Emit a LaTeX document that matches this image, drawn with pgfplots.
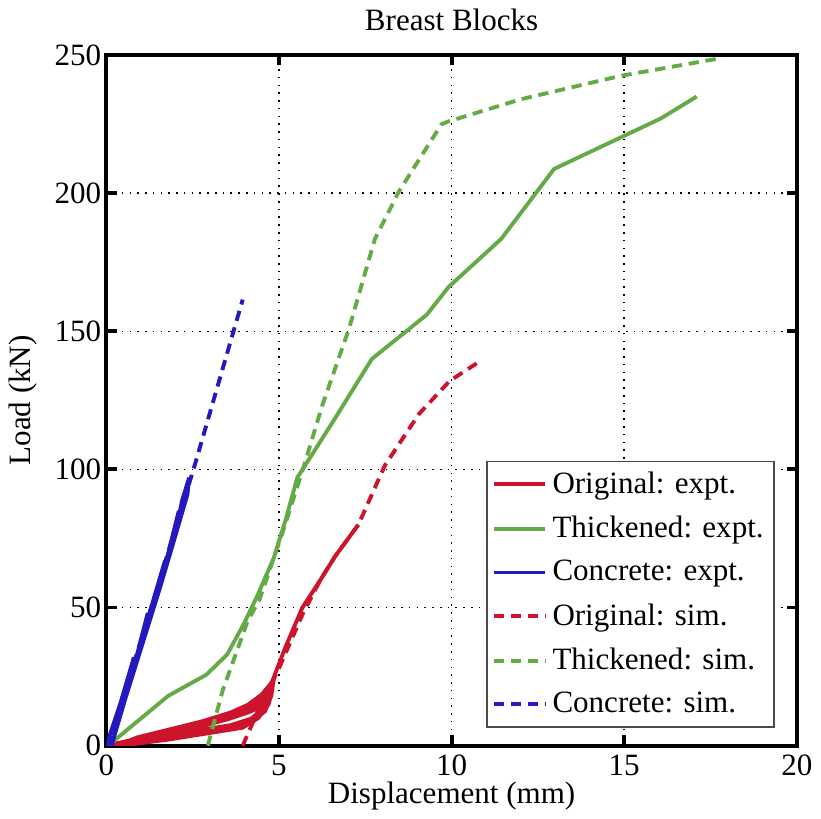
\documentclass[border=0pt]{standalone}
\usepackage{fontspec}
\setmainfont{Liberation Serif}
\usepackage{pgfplots}
\pgfplotsset{compat=1.18}
\definecolor{mred}{RGB}{205,20,45}
\definecolor{mgreen}{RGB}{100,170,70}
\definecolor{mblue}{RGB}{35,25,190}
\pgfplotsset{
  expt/.style={line width=1.5pt, solid},
  sim/.style={line width=1.5pt, dash pattern=on 4pt off 2.6pt},
}
\begin{document}
\begin{tikzpicture}
\begin{axis}[
  scale only axis, width=267pt, height=267pt,
  xmin=0, xmax=20, ymin=0, ymax=250,
  xtick={0,5,...,20}, ytick={0,50,...,250},
  grid=major,
  grid style={black, line width=0.6pt, dash pattern=on 0.6pt off 2.4pt},
  axis line style={line width=1.5pt},
  tick align=inside, major tick length=4pt,
  tick style={black, line width=1.5pt},
  /pgf/number format/assume math mode=true,
  tick label style={font=\fontsize{12}{14}\selectfont},
  yticklabel style={xshift=1.5pt},
  label style={font=\fontsize{12}{14}\selectfont},
  xlabel style={yshift=4.5pt},
  title style={font=\fontsize{12}{14}\selectfont},
  title={Breast Blocks},
  xlabel={Displacement (mm)},
  ylabel={Load (kN)},
  legend style={at={(0.968,0.026)}, anchor=south east,
    draw=black!70, line width=0.6pt, row sep=3.3pt,
    inner xsep=2pt,
    font=\fontsize{12}{14}\selectfont},
  legend cell align=left,
  legend image code/.code={\draw[#1] (0cm,0cm) -- (0.7cm,0cm);},
]
% original, experiment (many load cycles, then final loading)
\addplot[expt, mred] coordinates {
  (0,0) (0.9,2.5) (2,5.2) (2.8,7.2) (3.5,9.5) (4.1,12) (4.5,14) (4.7,16)
  (4.6,12.5) (4.2,8.5) (3.5,6) (2.8,4.6) (1.8,2.5) (0.9,0.8) (0.3,0)
  (0.9,2.7) (2,5.6) (2.8,7.8) (3.5,10.2) (4.1,12.8) (4.5,15.5) (4.75,18.5)
  (4.65,14) (4.3,9.5) (3.7,6.8) (2.8,5.2) (1.8,3.2) (0.9,1.3) (0.3,0)
  (0.9,2.9) (2,6) (2.8,8.5) (3.5,11) (4,13.5) (4.5,17) (4.8,21)
  (4.75,17) (4.5,12.5) (4,7.5) (3.2,5.2) (2.2,3.2) (1.2,1.2) (0.4,0)
  (1,3.1) (2,6.1) (2.8,8.3) (3.6,11) (4.1,13.8) (4.5,16.5) (4.82,22)
  (4.78,18) (4.6,14) (4.2,9.8) (3.6,7.4) (2.8,5.8) (1.8,3.7) (0.9,1.7) (0.35,0.3)
  (1,3.2) (2,6.3) (2.8,8.8) (3.6,11.8) (4.1,14.5) (4.5,18) (4.85,24)
  (4.8,20) (4.7,15) (4.4,10) (3.95,6.5) (2.8,4.2) (1.8,2.2) (0.86,0.7) (0.3,0)
  (0.9,3) (2,6.4) (2.8,8.9) (3.6,12) (4.1,14.8) (4.5,18.5) (4.8,23) (4.95,28)
  (5.2,36) (5.68,50) (6.2,60) (6.63,68.6) (7.3,80)
};
\addlegendentry{Original: expt.}
\addplot[expt, mgreen] coordinates {
  (0.05,0) (1.79,18) (2.9,25.7) (3.5,33) (4.0,44.5) (4.4,55) (4.85,68)
  (5.2,82) (5.53,97) (6.6,118) (7.69,140) (9.28,156) (9.91,166)
  (11.44,183.5) (12.97,208.8) (16.05,227) (17.1,235)
};
\addlegendentry{Thickened: expt.}
\addplot[expt, mblue] coordinates {
  (0,0) (0.4,15) (0.8,32) (0.75,28) (0.85,31) (1.2,48) (1.15,44) (1.3,50)
  (1.7,67) (1.65,63) (1.8,70) (2.1,85) (2.05,80) (2.2,89) (2.4,97)
  (2.35,91) (2.0,76) (1.55,57) (1.05,37) (0.55,17) (0.15,0)
  (0.5,16) (0.95,34) (1.4,52) (1.85,71) (2.3,93)
};
\addlegendentry{Concrete: expt.}
\addplot[sim, mred] coordinates {
  (3.95,0) (4.3,10) (4.6,18) (5.0,28) (5.7,48) (6.2,60) (6.63,68.6)
  (7.3,80) (8.07,101.5) (9.05,120) (9.94,132) (10.86,139.5)
};
\addlegendentry{Original: sim.}
\addplot[sim, mgreen] coordinates {
  (2.94,0) (3.37,20) (4.09,45) (4.44,53) (5.1,77) (5.73,101.5) (6.25,123)
  (7.03,151) (7.78,183.5) (8.47,200.5) (9.05,212) (9.71,225) (9.91,226)
  (12.0,234) (14.9,242.5) (17.84,249)
};
\addlegendentry{Thickened: sim.}
\addplot[sim, mblue] coordinates {
  (0.05,0) (0.35,12) (1.3,50) (2.56,101.5) (3.95,161.5)
};
\addlegendentry{Concrete: sim.}
\end{axis}
\end{tikzpicture}
\end{document}
